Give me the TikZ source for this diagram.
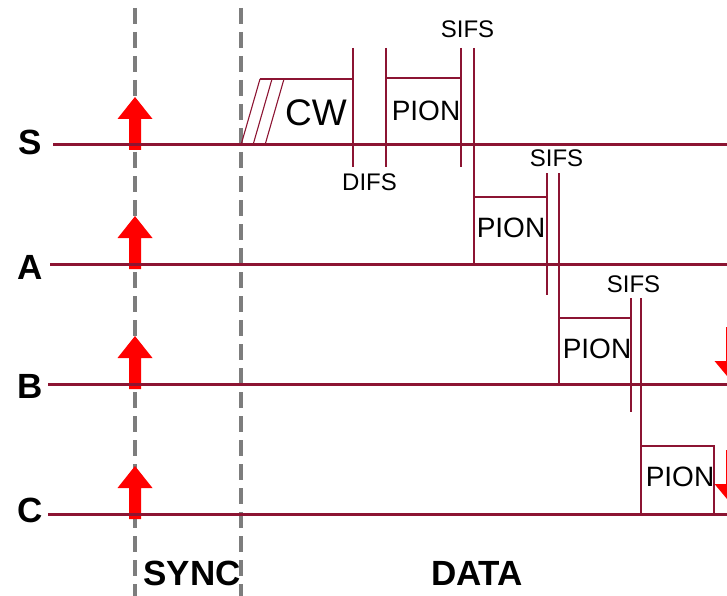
\documentclass[tikz,border=0pt]{standalone}
\usepackage{fontspec}
\setmainfont{Liberation Sans}
\definecolor{wine}{RGB}{140,20,50}
\definecolor{sgray}{RGB}{125,125,125}
\definecolor{ared}{RGB}{255,0,0}
\tikzset{
  tline/.style={wine,line width=3pt},
  vline/.style={wine,line width=1.8pt},
  vthick/.style={wine,line width=2.8pt},
  hatchline/.style={wine,line width=1.1pt},
  phase/.style={sgray,line width=4.5pt,dash pattern=on 16pt off 8pt},
  lbl/.style={font=\fontsize{35}{35}\selectfont\bfseries,inner sep=0pt},
  bigtxt/.style={font=\fontsize{37}{37}\selectfont,inner sep=0pt},
  frametxt/.style={font=\fontsize{28}{28}\selectfont,inner sep=0pt},
  smalltxt/.style={font=\fontsize{24}{24}\selectfont,inner sep=0pt},
  uparrow/.pic={\fill[ared] (-6,5) -- (-6,-26) -- (-17.5,-26) -- (0,-48) -- (17.5,-26) -- (6,-26) -- (6,5) -- cycle;},
  downarrow/.pic={\fill[ared] (-6,-55) -- (-6,-21) -- (-17.5,-21) -- (0,0) -- (17.5,-21) -- (6,-21) -- (6,-55) -- cycle;}
}
\begin{document}
\begin{tikzpicture}[x=1pt,y=-1pt]
\useasboundingbox (0,0) rectangle (727,596);
\clip (0,0) rectangle (727,596);
% phase separators
\draw[phase] (135,8) -- (135,596);
\draw[phase] (241,8) -- (241,596);
% sync arrows
\pic at (135,145) {uparrow};
\pic at (135,264) {uparrow};
\pic at (135,384) {uparrow};
\pic at (135,514) {uparrow};
\pic at (732,382) {downarrow};
\pic at (732,505) {downarrow};
% station lines
\coordinate (s0) at (53,145); \coordinate (s1) at (727,145);
\coordinate (a0) at (50,264); \coordinate (a1) at (727,264);
\coordinate (b0) at (48,384); \coordinate (b1) at (727,384);
\coordinate (c0) at (48,514); \coordinate (c1) at (727,514);
\draw[tline] (s0) -- (s1);
\draw[tline] (a0) -- (a1);
\draw[tline] (b0) -- (b1);
\draw[tline] (c0) -- (c1);
\node[lbl] (lS) at (30,142) {S};
\node[lbl] (lA) at (30,267) {A};
\node[lbl] (lB) at (30,386) {B};
\node[lbl] (lC) at (30,510) {C};
% S: contention window
\draw[hatchline] (241,145) -- (260,79);
\draw[hatchline] (253,145) -- (272,79);
\draw[hatchline] (265,145) -- (284,79);
\draw[vline] (260,79) -- (353,79);
\draw[vline] (353,48) -- (353,167);
\draw[vthick] (386,48) -- (386,167);
\draw[vline] (386,78) -- (461,78);
\draw[vline] (461,48) -- (461,167);
\draw[vline] (474,48) -- (474,264);
\node[bigtxt] (cw) at (316,112.5) {CW};
\node[frametxt] (pS) at (426,110.5) {PION};
\node[smalltxt] (difs) at (369.5,182.5) {DIFS};
\node[smalltxt] (sifs1) at (467.5,29) {SIFS};
% A
\draw[vline] (474,197) -- (547,197);
\draw[vthick] (547,173) -- (547,295);
\draw[vline] (559,173) -- (559,384);
\node[frametxt] (pA) at (511,228) {PION};
\node[smalltxt] (sifs2) at (556.5,158) {SIFS};
% B
\draw[vline] (559,318) -- (631,318);
\draw[vthick] (631,298) -- (631,412);
\draw[vline] (641,298) -- (641,514);
\node[frametxt] (pB) at (597,349) {PION};
\node[smalltxt] (sifs3) at (633.5,284) {SIFS};
% C
\draw[vline] (641,446) -- (714,446) -- (714,514);
\node[frametxt] (pC) at (680,477) {PION};
% phase labels
\node[lbl] (sync) at (192,573) {SYNC};
\node[lbl] (data) at (477,573) {DATA};
\end{tikzpicture}
\end{document}
